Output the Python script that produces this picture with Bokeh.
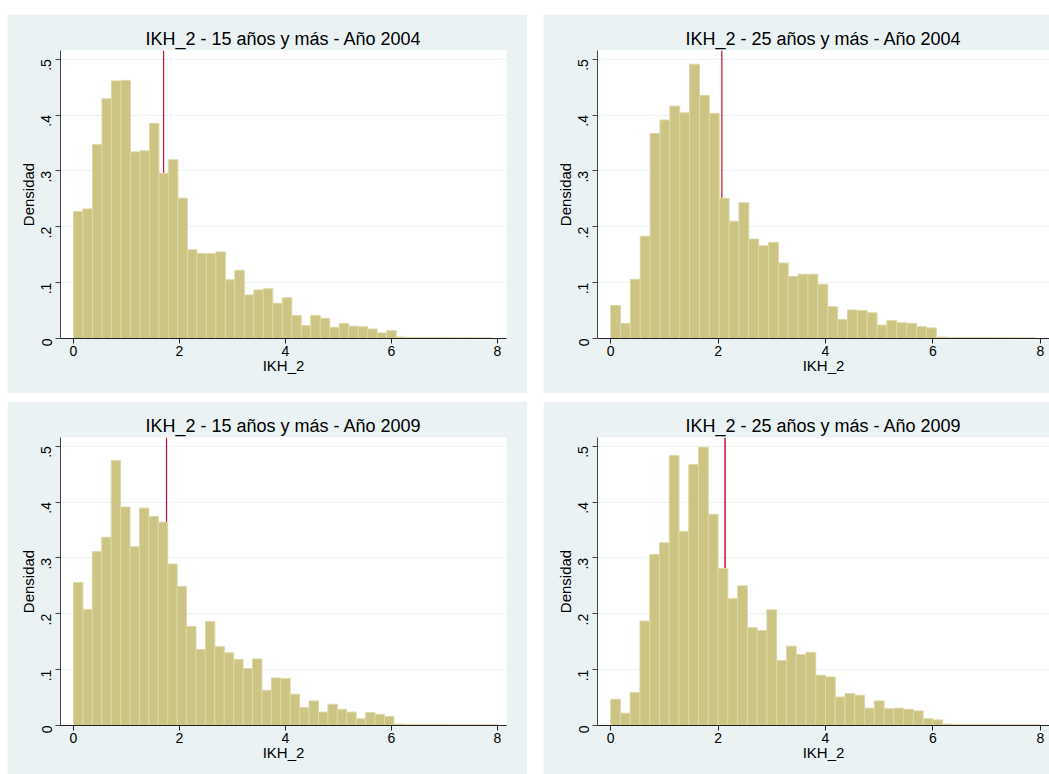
from bokeh.plotting import figure
from bokeh.layouts import column, row
from bokeh.models import Range1d, FixedTicker, ColumnDataSource
from bokeh.embed import file_html
from bokeh.resources import INLINE

# ---------------- data ----------------
titles = [
    "IKH_2 - 15 años y más - Año 2004",
    "IKH_2 - 25 años y más - Año 2004",
    "IKH_2 - 15 años y más - Año 2009",
    "IKH_2 - 25 años y más - Año 2009",
]
bin_widths = [0.1791, 0.1837, 0.1778, 0.1818]
means = [1.70, 2.07, 1.755, 2.13]

dens_15_2004 = [0.227, 0.232, 0.347, 0.429, 0.461, 0.462, 0.334, 0.336, 0.385, 0.296,
                0.320, 0.251, 0.159, 0.152, 0.152, 0.155, 0.105, 0.122, 0.078, 0.087,
                0.089, 0.063, 0.073, 0.041, 0.023, 0.041, 0.036, 0.020, 0.027, 0.022,
                0.021, 0.017, 0.010, 0.014,
                0.0025, 0.002, 0.002, 0.0018, 0.0018, 0.0016, 0.0015, 0.0015, 0.0014, 0.0014]
dens_25_2004 = [0.059, 0.027, 0.106, 0.183, 0.367, 0.391, 0.416, 0.404, 0.491, 0.435,
                0.403, 0.251, 0.210, 0.243, 0.178, 0.166, 0.172, 0.135, 0.111, 0.115,
                0.115, 0.097, 0.057, 0.034, 0.051, 0.050, 0.046, 0.024, 0.032, 0.028,
                0.027, 0.021, 0.019,
                0.0025, 0.002, 0.002, 0.0018, 0.0018, 0.0016, 0.0015, 0.0015, 0.0014, 0.0014]
dens_15_2009 = [0.256, 0.208, 0.311, 0.337, 0.474, 0.391, 0.320, 0.389, 0.374, 0.364,
                0.289, 0.249, 0.177, 0.136, 0.186, 0.141, 0.130, 0.118, 0.102, 0.119,
                0.063, 0.085, 0.084, 0.056, 0.032, 0.044, 0.024, 0.038, 0.029, 0.024,
                0.012, 0.023, 0.020, 0.016,
                0.0025, 0.002, 0.002, 0.0018, 0.0018, 0.0016, 0.0015, 0.0015, 0.0014, 0.0014, 0.0014]
dens_25_2009 = [0.047, 0.022, 0.059, 0.187, 0.306, 0.327, 0.483, 0.347, 0.467, 0.498,
                0.378, 0.281, 0.227, 0.250, 0.175, 0.170, 0.207, 0.116, 0.142, 0.127,
                0.131, 0.090, 0.087, 0.051, 0.057, 0.054, 0.031, 0.044, 0.030, 0.031,
                0.029, 0.026, 0.012, 0.010,
                0.0025, 0.002, 0.002, 0.0018, 0.0018, 0.0016, 0.0015, 0.0015, 0.0014, 0.0014]
densities = [dens_15_2004, dens_25_2004, dens_15_2009, dens_25_2009]

x_ticks = [0, 2, 4, 6, 8]
y_ticks = [0, 0.1, 0.2, 0.3, 0.4, 0.5]
y_tick_labels = {0: "0", 0.1: ".1", 0.2: ".2", 0.3: ".3", 0.4: ".4", 0.5: ".5"}
x_label = "IKH_2"
y_label = "Densidad"

# ---------------- style ----------------
BG = "#eaf2f3"
BAR_FILL = "#cbc482"
BAR_LINE = "#ddd7a6"
MEAN_COL = "#c41230"
FONT = "Liberation Sans"

def make_panel(i, width, height, left, right, bottom):
    p = figure(width=width, height=height, output_backend="svg", toolbar_location=None,
               x_range=Range1d(-0.245, 8.17), y_range=Range1d(0, 0.5155),
               min_border_left=left, min_border_right=right,
               min_border_top=36, min_border_bottom=bottom,
               border_fill_color=BG, background_fill_color="white",
               outline_line_color=None)
    p.title.text = titles[i]
    p.title.align = "center"
    p.title.text_font = FONT
    p.title.text_font_size = "18px"
    p.title.text_font_style = "normal"
    p.title.text_color = "black"
    p.title.standoff = 3

    # mean line (behind bars)
    p.segment(x0=[means[i]], y0=[0], x1=[means[i]], y1=[0.5155],
              line_color=MEAN_COL, line_width=1.5 if i == 3 else 1.2)

    d = densities[i]
    w = bin_widths[i]
    lefts = [k * w for k in range(len(d))]
    rights = [(k + 1) * w for k in range(len(d))]
    src = ColumnDataSource(dict(left=lefts, right=rights, top=d, bottom=[0] * len(d)))
    p.quad(left="left", right="right", top="top", bottom="bottom", source=src,
           fill_color=BAR_FILL, line_color=BAR_LINE, line_width=1)

    p.xgrid.visible = False
    p.ygrid.ticker = FixedTicker(ticks=y_ticks[1:])
    p.ygrid.grid_line_color = BG
    p.ygrid.grid_line_width = 1.2

    xa = p.xaxis[0]
    xa.ticker = FixedTicker(ticks=x_ticks)
    xa.minor_tick_line_color = None
    xa.major_tick_out = 5
    xa.major_tick_in = 0
    xa.major_label_standoff = 2
    xa.major_label_text_font = FONT
    xa.major_label_text_font_size = "14px"
    xa.major_label_text_color = "black"
    xa.axis_label = x_label
    xa.axis_label_text_font = FONT
    xa.axis_label_text_font_size = "15px"
    xa.axis_label_text_font_style = "normal"
    xa.axis_label_text_color = "black"
    xa.axis_label_standoff = -2
    xa.axis_line_color = "#222222"
    xa.major_tick_line_color = "#222222"

    ya = p.yaxis[0]
    ya.ticker = FixedTicker(ticks=y_ticks)
    ya.major_label_overrides = y_tick_labels
    ya.minor_tick_line_color = None
    ya.major_tick_out = 5
    ya.major_tick_in = 0
    ya.major_label_standoff = 9
    ya.major_label_orientation = 1.5708
    ya.major_label_text_font = FONT
    ya.major_label_text_font_size = "14px"
    ya.major_label_text_color = "black"
    ya.axis_label = y_label
    ya.axis_label_text_font = FONT
    ya.axis_label_text_font_size = "15px"
    ya.axis_label_text_font_style = "normal"
    ya.axis_label_text_color = "black"
    ya.axis_label_standoff = -3
    ya.axis_line_color = "#444444"
    ya.major_tick_line_color = "#444444"
    return p

p1 = make_panel(0, 520, 379, 53, 21, 55)
p2 = make_panel(1, 506, 379, 54, 0, 55)
p3 = make_panel(2, 520, 373, 53, 21, 49)
p4 = make_panel(3, 506, 373, 54, 0, 49)

layout = column(row(p1, p2, spacing=16), row(p3, p4, spacing=16),
                spacing=8, margin=(14, 0, 0, 7))

open("out.html", "w").write(file_html(layout, INLINE))
